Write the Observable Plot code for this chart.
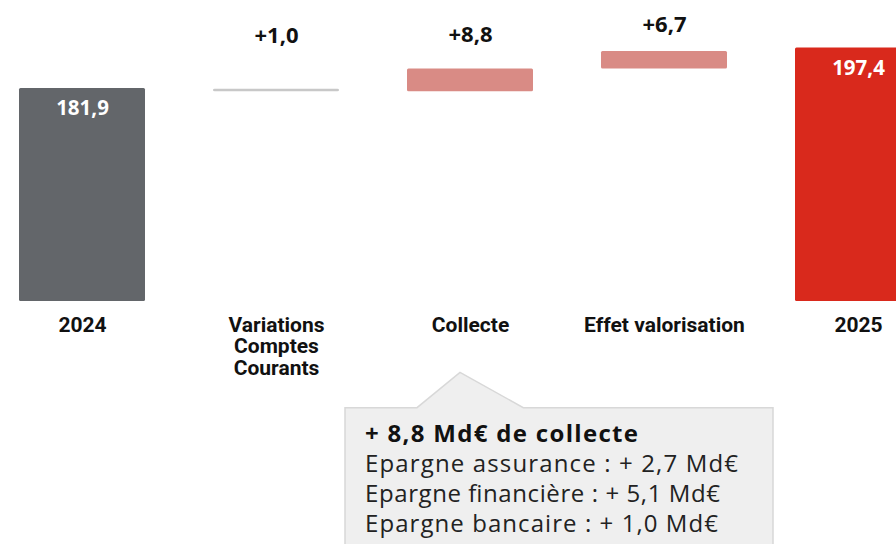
<!DOCTYPE html>
<html><head><meta charset="utf-8">
<script src="https://cdn.jsdelivr.net/npm/d3@7"></script>
<script src="https://cdn.jsdelivr.net/npm/@observablehq/plot@0.6"></script>
<style>
html,body{margin:0;padding:0;background:#fff;overflow:hidden}
#wrap{width:896px;height:544px;overflow:hidden;position:relative}
</style></head><body><div id="wrap"></div>
<script>
// ---- data ----
const categories = ["2024", "Variations Comptes Courants", "Collecte", "Effet valorisation", "2025"];
const axisLabels = ["2024", "Variations\nComptes\nCourants", "Collecte", "Effet valorisation", "2025"];
const values = [181.9, 1.0, 8.8, 6.7, 197.4];            // Md€
const valueLabels = ["181,9", "+1,0", "+8,8", "+6,7", "197,4"];
const kinds = ["total", "neutral", "gain", "gain", "final"];
const stepStarts = [null, 180.6, 180.6, 189.4, null];     // where each floating bar begins
const axisBase = 100;                                      // truncated axis origin
const calloutTitle = "+ 8,8 Md€ de collecte";
const calloutLines = ["Epargne assurance : + 2,7 Md€", "Epargne financière : + 5,1 Md€", "Epargne bancaire : + 1,0 Md€"];

// ---- build table ----
const data = categories.map((c, i) => {
  const total = kinds[i] === "total" || kinds[i] === "final";
  const y1 = total ? axisBase : stepStarts[i];
  const y2 = total ? values[i] : stepStarts[i] + values[i];
  return {cat: c, label: axisLabels[i], text: valueLabels[i], kind: kinds[i], y1, y2, i};
});
const colors = {total: "#63666a", neutral: "#c8c8c8", gain: "#d98b85", final: "#d9291c"};
const deltaDy = [0, -53, -34, -27, 0];

const deltaMarks = data.filter(d => d.kind === "neutral" || d.kind === "gain").map(d =>
  Plot.text([d], {
    x: "cat", y: "y2", text: "text", dy: deltaDy[d.i], lineAnchor: "middle",
    fill: "#111", fontSize: 22, fontWeight: "bold", fontFamily: "Open Sans"
  })
);

const chart = Plot.plot({
  width: 896, height: 544,
  marginTop: 0, marginBottom: 243, marginLeft: 0, marginRight: 0,
  x: {domain: categories, range: [-50.5, 990.5], padding: 0.352, axis: null},
  y: {domain: [axisBase, 215.7], axis: null},
  style: {background: "#fff"},
  marks: [
    Plot.barY(data, {x: "cat", y1: "y1", y2: "y2", fill: d => colors[d.kind], rx: 1.5}),
    Plot.text(data.filter(d => d.kind === "total" || d.kind === "final"), {
      x: "cat", y: "y2", text: "text", dy: 20, lineAnchor: "middle",
      fill: "#fff", fontSize: 20.5, fontWeight: "bold", fontFamily: "Open Sans"
    }),
    ...deltaMarks,
    Plot.text(data, {
      x: "cat", y: axisBase, text: "label", dy: 15, lineAnchor: "top", lineHeight: 1.03,
      fill: "#111", fontSize: 21, fontWeight: "bold", fontFamily: "Roboto"
    })
  ]
});
document.getElementById("wrap").appendChild(chart);

// ---- callout annotation ----
const svg = d3.select(chart);
const callout = svg.append("g").attr("text-anchor", "start");
callout.append("path")
  .attr("d", "M345,407.7 L417,407.7 L460,372.3 L523.3,407.7 L773,407.7 L773,560 L345,560 Z")
  .attr("fill", "#efefef").attr("stroke", "#d8d8d8").attr("stroke-width", 1.5);
callout.append("text").attr("x", 365).attr("y", 441.7)
  .attr("font-family", "Open Sans").attr("font-weight", "bold").attr("font-size", 24)
  .attr("textLength", 273).attr("lengthAdjust", "spacing")
  .attr("fill", "#111").text(calloutTitle);
const lineWidths = [373, 355, 353];
calloutLines.forEach((t, k) => {
  callout.append("text").attr("x", 365).attr("y", 471.7 + 30 * k)
    .attr("font-family", "Open Sans").attr("font-weight", 400).attr("font-size", 24)
    .attr("textLength", lineWidths[k]).attr("lengthAdjust", "spacing")
    .attr("fill", "#222").text(t);
});
</script></body></html>
